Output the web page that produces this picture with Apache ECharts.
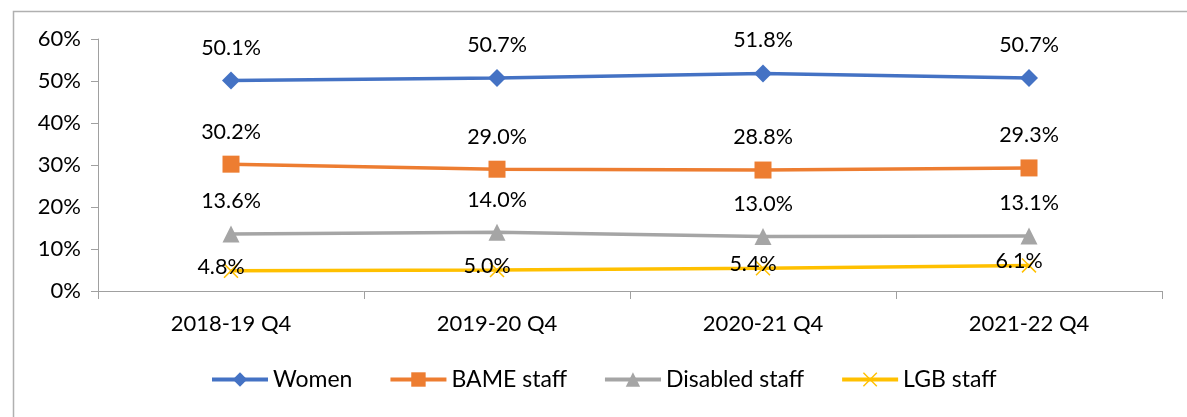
<!DOCTYPE html>
<html>
<head>
<meta charset="utf-8">
<script src="https://cdn.jsdelivr.net/npm/echarts@6/dist/echarts.min.js"></script>
<style>
html,body{margin:0;padding:0;background:#fff;}
#c{width:1187px;height:417px;}
</style>
</head>
<body>
<div id="c"></div>
<script>
const categories = ['2018-19 Q4', '2019-20 Q4', '2020-21 Q4', '2021-22 Q4'];
const women = [50.1, 50.7, 51.8, 50.7];
const bame = [30.2, 29.0, 28.8, 29.3];
const disabled = [13.6, 14.0, 13.0, 13.1];
const lgb = [4.8, 5.0, 5.4, 6.1];
const yTicks = [0, 10, 20, 30, 40, 50, 60];

const FONT = 'Lato';
const FS = 21.5;
const chart = echarts.init(document.getElementById('c'), null, {renderer: 'canvas'});
const lbl = {
  show: true, position: 'top', distance: 13, color: '#000',
  fontFamily: FONT, fontSize: FS,
  formatter: p => p.value.toFixed(1) + '%'
};
function ser(name, data, color, symbol, size, label) {
  return {
    name, type: 'line', data, symbol, symbolSize: size,
    lineStyle: {color, width: 3.5}, itemStyle: {color},
    label: label, emphasis: {disabled: true}
  };
}
const xPath = 'path://M0,0.7L0.7,0L10,9.3L9.3,10Z M9.3,0L10,0.7L0.7,10L0,9.3Z';
chart.setOption({
  animation: false,
  graphic: [{
    type: 'rect', left: 11, top: 9, shape: {x: 0, y: 0, width: 1300, height: 600},
    style: {fill: 'none', stroke: '#b0b0b0', lineWidth: 1.5}, silent: true
  }],
  grid: {left: 98, right: 25, top: 39, bottom: 126, containLabel: false},
  xAxis: {
    type: 'category', data: categories, boundaryGap: true,
    axisLine: {lineStyle: {color: '#a0a0a0', width: 1}},
    axisTick: {show: true, length: 8, lineStyle: {color: '#a0a0a0'}},
    axisLabel: {color: '#000', fontFamily: FONT, fontSize: 22, margin: 22}
  },
  yAxis: {
    type: 'value', min: 0, max: 60, interval: 10,
    axisLine: {show: true, lineStyle: {color: '#a0a0a0', width: 1}},
    axisTick: {show: true, length: 7, inside: false, lineStyle: {color: '#a0a0a0'}},
    splitLine: {show: false},
    axisLabel: {color: '#000', fontFamily: FONT, fontSize: 22, margin: 17,
      formatter: v => yTicks.includes(v) ? v + '%' : ''}
  },
  legend: {
    bottom: 21, left: 205, itemWidth: 56, itemHeight: 18, itemGap: 36,
    lineStyle: {width: 4},
    textStyle: {color: '#000', fontFamily: FONT, fontSize: 23},
    data: ['Women', 'BAME staff', 'Disabled staff', 'LGB staff']
  },
  series: [
    ser('Women', women, '#4472C4', 'diamond', 18, lbl),
    ser('BAME staff', bame, '#ED7D31', 'rect', 17, lbl),
    ser('Disabled staff', disabled, '#A5A5A5', 'triangle', 17, lbl),
    ser('LGB staff', lgb, '#FFC000', xPath, 15,
      Object.assign({}, lbl, {position: 'inside', offset: [-10, -4]}))
  ]
});
</script>
</body>
</html>
